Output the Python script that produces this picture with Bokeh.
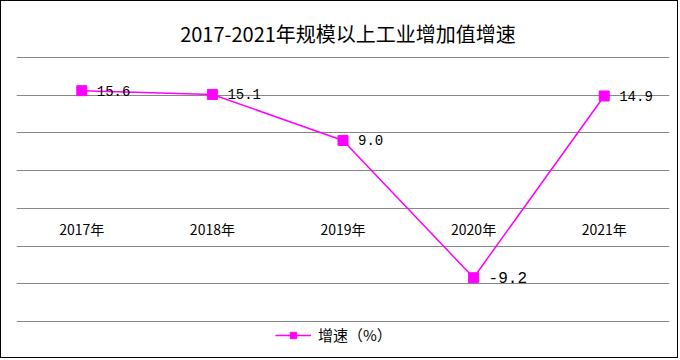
from bokeh.plotting import figure
from bokeh.models import ColumnDataSource, FixedTicker, Legend, LegendItem, CDSView, IndexFilter
from bokeh.core.properties import value
from bokeh.embed import file_html
from bokeh.resources import INLINE

title_text = "2017-2021年规模以上工业增加值增速"
years = ["2017年", "2018年", "2019年", "2020年", "2021年"]
growth = [15.6, 15.1, 9.0, -9.2, 14.9]
labels = ["15.6", "15.1", "9.0", "-9.2", "14.9"]
y_ticks = [-15, -10, -5, 0, 5, 10, 15, 20]
axis_y = [0, 0, 0, 0, 0]

src = ColumnDataSource(dict(x=years, y=growth, lab=labels, y0=axis_y))

p = figure(width=678, height=358, x_range=years, y_range=(-18.98, 27.42),
           output_backend="svg", toolbar_location=None,
           min_border_left=15, min_border_right=10, min_border_top=0, min_border_bottom=8)
p.styles = {"border": "1px solid black"}
p.x_range.range_padding = 0
p.outline_line_color = None
p.background_fill_color = "white"
p.border_fill_color = "white"

p.yaxis.visible = False
p.xaxis.visible = False
p.ygrid.ticker = FixedTicker(ticks=y_ticks)
p.ygrid.grid_line_color = "#868686"
p.ygrid.grid_line_width = 1
p.ygrid.grid_line_alpha = 1
p.xgrid.visible = False

# chart title, centred above the top grid line
p.text(x=[years[2]], y=[23.18], text=[title_text], x_offset=5, text_baseline="middle",
       text_align="center", text_font=value("Noto Sans CJK SC"), text_font_size="20px",
       text_color="black")

# category labels sit just under the zero line
p.text("x", "y0", text="x", source=src, y_offset=21, text_baseline="middle",
       text_align="center", text_font=value("Noto Sans CJK SC"), text_font_size="14px",
       text_color="black")

ln = p.line("x", "y", source=src, line_color="#FF00FF", line_width=1.5)
sq = p.scatter("x", "y", source=src, marker="square", size=10,
               fill_color="#FF00FF", line_color="#FF00FF")
p.text("x", "y", text="lab", source=src, x_offset=15, text_baseline="middle",
       text_align="left", text_font=value("Liberation Mono"), text_font_size="14px",
       text_color="black", view=CDSView(filter=IndexFilter([0, 1, 2, 4])))
p.text("x", "y", text="lab", source=src, x_offset=15, text_baseline="middle",
       text_align="left", text_font=value("Liberation Mono"), text_font_size="16px",
       text_color="black", view=CDSView(filter=IndexFilter([3])))

legend = Legend(items=[LegendItem(label="增速（%）", renderers=[ln, sq])],
                location=(259, 6), orientation="horizontal",
                glyph_width=36, glyph_height=16, label_text_font="Noto Sans CJK SC",
                label_text_font_size="15px", label_text_color="black",
                label_standoff=7, padding=2, margin=0,
                border_line_color=None, background_fill_alpha=0)
p.add_layout(legend)

open("out.html", "w").write(file_html(p, INLINE))
